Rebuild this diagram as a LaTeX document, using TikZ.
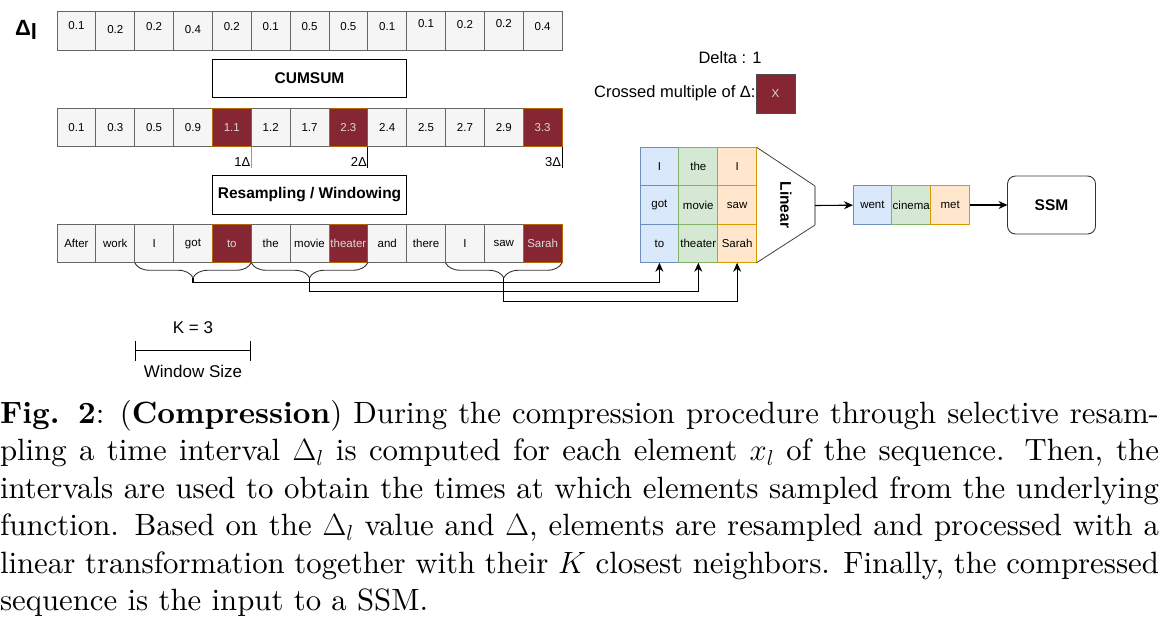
\documentclass[tikz,border=0pt]{standalone}
\usepackage{fix-cm}
\usepackage{fontspec}
\setsansfont{Liberation Sans}
\newfontfamily\capfont{lmroman10-regular}[Extension=.otf, BoldFont=lmroman10-bold]
\usetikzlibrary{positioning, arrows.meta, decorations.pathreplacing}

\definecolor{cellfill}{HTML}{F5F5F5}
\definecolor{celldraw}{HTML}{666666}
\definecolor{hitfill}{HTML}{862633}
\definecolor{hitdraw}{HTML}{B46504}
\definecolor{bluefill}{HTML}{DAE8FC}
\definecolor{bluedraw}{HTML}{6C8EBF}
\definecolor{greenfill}{HTML}{D5E8D4}
\definecolor{greendraw}{HTML}{82B366}
\definecolor{orangefill}{HTML}{FFE6CC}
\definecolor{orangedraw}{HTML}{D79B00}

\begin{document}
\begin{tikzpicture}[x=1pt, y=-1pt, outer sep=0pt, font=\sffamily]
\tikzstyle{cell} = [draw=celldraw, line width=0.8pt, fill=cellfill, minimum width=38.85pt, minimum height=38.5pt, inner sep=0pt, font=\sffamily\fontsize{11.5}{12}\selectfont]
\tikzstyle{hit} = [cell, draw=hitdraw, fill=hitfill, text=black!15]
\tikzstyle{bluecell} = [cell, draw=bluedraw, fill=bluefill]
\tikzstyle{greencell} = [cell, draw=greendraw, fill=greenfill]
\tikzstyle{orangecell} = [cell, draw=orangedraw, fill=orangefill]
\tikzstyle{bigbox} = [draw, line width=0.9pt, minimum width=194pt, minimum height=38.5pt, font=\sffamily\bfseries\fontsize{15.5}{16}\selectfont]
\tikzstyle{note} = [inner sep=0.5pt, font=\sffamily\fontsize{16.5}{17}\selectfont]
\tikzstyle{arrow} = [line width=1.1pt, -{Stealth[length=9pt, width=8pt]}]
\tikzstyle{brace} = [draw=black!80, line width=0.9pt, decorate, decoration={brace, amplitude=15pt}]

\useasboundingbox (0,0) rectangle (1159,624);

% Delta_l row
\node[anchor=base west, inner sep=0pt, font=\sffamily\bfseries\fontsize{22}{22}\selectfont] (dl) at (15,35) {Δ\raisebox{-4pt}{l}};
\foreach \v/\dy [count=\i] in {0.1/5, 0.2/1, 0.2/4, 0.4/1, 0.2/4, 0.1/4, 0.5/4, 0.5/4, 0.1/4, 0.1/7, 0.2/6, 0.2/7, 0.4/4} {
  \node[cell] (delta\i) at ({37.575+38.85*\i}, 31) {};
  \node[inner sep=0pt, font=\sffamily\fontsize{11.5}{12}\selectfont] at ([yshift=\dy pt]delta\i.center) {\v};
}
\node[bigbox, below=9pt of delta7] (cumsum) {CUMSUM};

% Cumulative sum row
\foreach \v/\s [count=\i] in {0.1/cell, 0.3/cell, 0.5/cell, 0.9/cell, 1.1/hit, 1.2/cell, 1.7/cell, 2.3/hit, 2.4/cell, 2.5/cell, 2.7/cell, 2.9/cell, 3.3/hit} {
  \node[\s] (sum\i) at ({37.575+38.85*\i}, 127.5) {\v};
}
\coordinate (t1) at ([yshift=-21pt]sum5.south east);
\coordinate (t2) at ([yshift=-21pt]sum8.south east);
\coordinate (t3) at ([yshift=-21pt]sum13.south east);
\draw[black!40, line width=0.8pt] (sum5.south east) -- (t1);
\draw[line width=0.8pt] (sum8.south east) -- (t2);
\draw[line width=0.8pt] (sum13.south east) -- (t3);
\foreach \k in {1,2,3} {
  \node[anchor=south east, inner sep=1pt, font=\sffamily\fontsize{13}{13}\selectfont] (tl\k) at (t\k) {\k Δ};
}
\node[bigbox, below=29pt of sum7] (resample) {Resampling / Windowing};

% Token row
\foreach \w/\s [count=\i] in {After/cell, work/cell, I/cell, got/cell, to/hit, the/cell, movie/cell, theater/hit, and/cell, there/cell, I/cell, saw/cell, Sarah/hit} {
  \node[\s] (word\i) at ({37.575+38.85*\i}, 243.5) {\w};
}
\draw[brace] (word5.south east) -- (word3.south west);
\draw[brace] (word8.south east) -- (word6.south west);
\draw[brace] (word13.south east) -- (word11.south west);
\coordinate (b1) at ([yshift=-15pt]word4.south);
\coordinate (b2) at ([yshift=-15pt]word7.south);
\coordinate (b3) at ([yshift=-15pt]word12.south);

% Windows
\foreach \a/\b/\c [count=\r] in {I/the/I, got/movie/saw, to/theater/Sarah} {
  \node[bluecell] (m\r1) at (659.4, {128+38.5*\r}) {\a};
  \node[greencell] (m\r2) at (698.3, {128+38.5*\r}) {\b};
  \node[orangecell] (m\r3) at (737.1, {128+38.5*\r}) {\c};
}
\draw[arrow] (b1) -- ++(0,4.5) -| (m31.south);
\draw[arrow] (b2) -- ++(0,14) -| (m32.south);
\draw[arrow] (b3) -- ++(0,24) -| (m33.south);

% Linear
\coordinate (lin1) at (815,186);
\coordinate (lin2) at (815,225);
\coordinate (linout) at (815,205.5);
\draw[black!75, line width=0.8pt] (m13.north east) -- (lin1) (lin2) -- (m33.south east);
\draw[black!35, line width=1.2pt] (lin1) -- (lin2);
\node[rotate=-90, font=\sffamily\bfseries\fontsize{15.5}{16}\selectfont] (linear) at (786,205) {Linear};

% Compressed sequence
\node[bluecell] (out1) at (872.4,205) {went};
\node[greencell] (out2) at (911.25,205) {cinema};
\node[orangecell] (out3) at (950.1,205) {met};
\draw[arrow] (linout) -- (out1);
\node[draw=black!80, line width=0.9pt, rounded corners=8pt, minimum width=88pt, minimum height=58pt, font=\sffamily\bfseries\fontsize{15.5}{16}\selectfont, right=38pt of out3] (ssm) {SSM};
\draw[arrow] (out3) -- (ssm);

% Legend
\node[hit, draw=black!70, minimum height=39pt] (xbox) at (775.5,93.5) {X};
\node[note, left=0pt of xbox] (crossed) {Crossed multiple of Δ:};
\node[note] (delta) at (730,58) {Delta : 1};

% Window size
\coordinate (k1) at ([yshift=-88pt]word3.south west);
\coordinate (k2) at ([yshift=-88pt]word5.south east);
\draw[line width=0.9pt, {Bar[width=20pt]}-{Bar[width=20pt]}] (k1) -- (k2);
\node[note, font=\sffamily\fontsize{17}{17}\selectfont] (kval) at (193,328) {K = 3};
\node[note, font=\sffamily\fontsize{17}{17}\selectfont] (wsize) at (193,371) {Window Size};

% Caption
\node[anchor=north west, inner sep=0pt, text width=1159pt, align=justify, font=\capfont\fontsize{30.8}{37.5}\selectfont] (caption) at (0,400) {\textbf{Fig. 2}: (\textbf{Compression}) During the compression procedure through selective resam-\linebreak pling a time interval $\Delta_l$ is computed for each element $x_l$ of the sequence. Then, the\linebreak intervals are used to obtain the times at which elements sampled from the underlying\linebreak function. Based on the $\Delta_l$ value and $\Delta$, elements are resampled and processed with a\linebreak linear transformation together with their $K$ closest neighbors. Finally, the compressed\linebreak sequence is the input to a SSM.};
\end{tikzpicture}
\end{document}
